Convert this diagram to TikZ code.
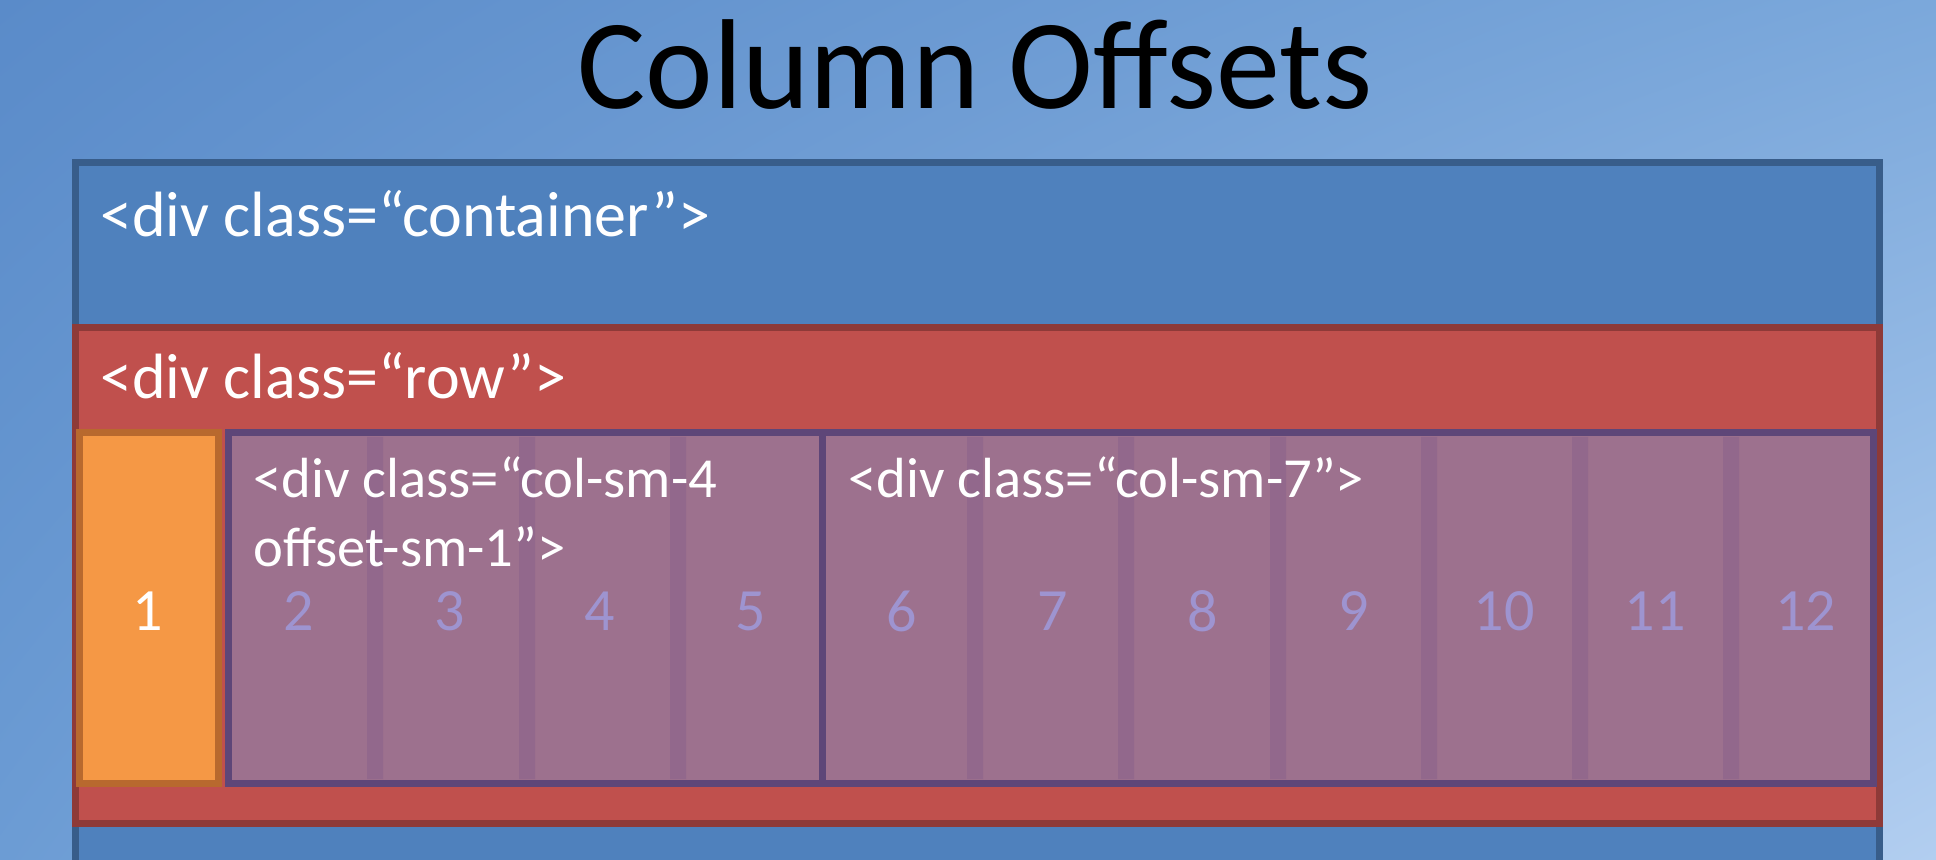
\documentclass[tikz,border=0pt]{standalone}
\usepackage{fontspec}
\setmainfont{Carlito}
\usetikzlibrary{positioning,shadings}

\definecolor{slidetl}{RGB}{90,139,201}
\definecolor{slidetr}{RGB}{123,168,219}
\definecolor{slidebl}{RGB}{108,156,212}
\definecolor{slidebr}{RGB}{178,206,240}
\definecolor{ctrfill}{RGB}{79,129,189}
\definecolor{ctrline}{RGB}{56,93,138}
\definecolor{rowfill}{RGB}{192,80,77}
\definecolor{rowline}{RGB}{142,58,56}
\definecolor{offfill}{RGB}{245,152,69}
\definecolor{offline}{RGB}{184,105,46}
\definecolor{colfill}{RGB}{157,113,142}
\definecolor{colline}{RGB}{94,70,120}
\definecolor{gutter}{RGB}{146,104,140}
\definecolor{gridnum}{RGB}{158,148,208}

\begin{document}
\begin{tikzpicture}[x=0.5pt,y=-0.5pt,node distance=75.35pt,
    tagtext/.style={anchor=base west,inner sep=0pt,text=white,font=\fontsize{32}{34}\selectfont},
    coltext/.style={tagtext,font=\fontsize{28.3}{30}\selectfont},
    colnum/.style={inner sep=0pt,text=gridnum,font=\fontsize{30}{32}\selectfont}]
  \clip (0,0) rectangle (1936,860);
  \shade[upper left=slidetl,upper right=slidetr,lower left=slidebl,lower right=slidebr]
    (0,0) rectangle (1936,860);

  \node[anchor=base,inner sep=0pt,font=\fontsize{64}{70}\selectfont] (title) at (975,109) {Column Offsets};

  % container and row
  \draw[line width=3.5pt,draw=ctrline,fill=ctrfill] (75,163) rectangle (1879,960);
  \draw[line width=3.5pt,draw=rowline,fill=rowfill] (75,328) rectangle (1879,823);

  % the offset column, then the two real columns with their gutters
  \draw[line width=3.5pt,draw=offline,fill=offfill] (79,433) rectangle (218,783);
  \fill[colfill] (228,433) rectangle (1873,783);
  \fill[gutter] (367,437) rectangle (383,779)
                (519,437) rectangle (535,779)
                (670,437) rectangle (686,779)
                (967,437) rectangle (983,779)
                (1118,437) rectangle (1134,779)
                (1270,437) rectangle (1286,779)
                (1421,437) rectangle (1437,779)
                (1572,437) rectangle (1588,779)
                (1723,437) rectangle (1739,779);
  \draw[line width=3.5pt,draw=colline] (228,433) rectangle (822,783);
  \draw[line width=3.5pt,draw=colline] (822,433) rectangle (1873,783);

  \node[tagtext] (ctr) at (100,237) {<div class=“container”>};
  \node[tagtext] (row) at (100,399) {<div class=“row”>};
  \node[coltext] (sm4) at (253,497) {<div class=“col-sm-4};
  \node[coltext] (off) at (253,566) {offset-sm-1”>};
  \node[coltext] (sm7) at (848,497) {<div class=“col-sm-7”>};

  % grid numbers
  \node[colnum,text=white] (n1) at (148,611) {1};
  \node[colnum] (n2) [right of=n1] {2};
  \node[colnum] (n3) [right of=n2] {3};
  \node[colnum] (n4) [right of=n3] {4};
  \node[colnum] (n5) [right of=n4] {5};
  \node[colnum] (n6) [right of=n5] {6};
  \node[colnum] (n7) [right of=n6] {7};
  \node[colnum] (n8) [right of=n7] {8};
  \node[colnum] (n9) [right of=n8] {9};
  \node[colnum] (n10) [right of=n9] {10};
  \node[colnum] (n11) [right of=n10] {11};
  \node[colnum] (n12) [right of=n11] {12};
\end{tikzpicture}
\end{document}
